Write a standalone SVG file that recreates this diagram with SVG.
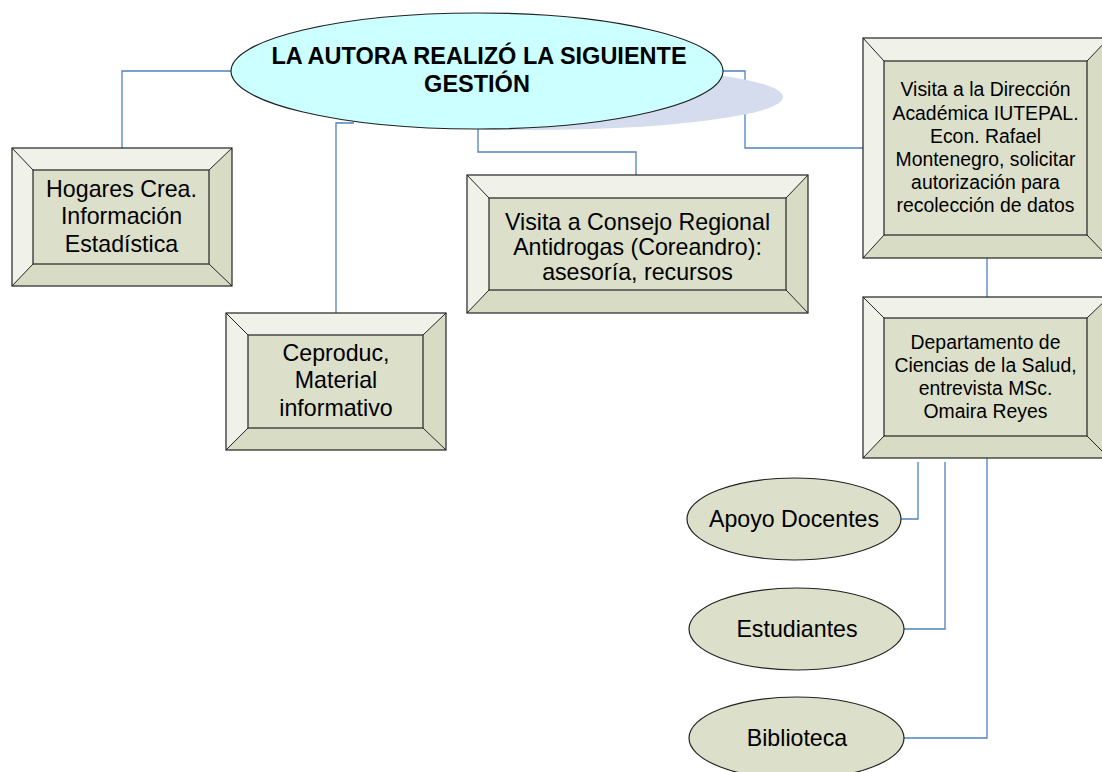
<svg xmlns="http://www.w3.org/2000/svg" width="1102" height="772" viewBox="0 0 1102 772">
<style>
.lt{fill:#f0f1e8}
.dk{fill:#d9dcc5}
.in{fill:#dcdfc9;stroke:#222;stroke-width:1.2}
.ot{fill:none;stroke:#222;stroke-width:1.2}
.dg{stroke:#222;stroke-width:1}
.t{font-family:"Liberation Sans",Arial,sans-serif;fill:#000;text-anchor:middle}
.big{font-size:23.2px}
.sm{font-size:19.4px}
.con{fill:none;stroke:#4f81bd;stroke-width:1.3}
.el{fill:#dcdfc9;stroke:#222;stroke-width:1.2}
</style>
<rect width="1102" height="772" fill="#fff"/>
<g id="connectors">
<path class="con" d="M231,71 H122 V148"/>
<path class="con" d="M354,123 H336 V313"/>
<path class="con" d="M478,129 V152 H636 V175"/>
<path class="con" d="M723,71 H745 V148 H863"/>
<path class="con" d="M987,258 V297"/>
<path class="con" d="M918,462 V519 H901"/>
<path class="con" d="M945,462 V629 H904"/>
<path class="con" d="M987,458 V738 H904"/>
</g>
<g id="main">
<ellipse cx="530" cy="97" rx="253" ry="33" fill="#d5dced"/>
<ellipse cx="477" cy="71" rx="246" ry="58" fill="#ccffff" stroke="#222" stroke-width="1.2"/>
<text class="t" font-weight="bold" font-size="23.5px" x="479" y="64">LA AUTORA REALIZÓ LA SIGUIENTE</text>
<text class="t" font-weight="bold" font-size="23.5px" x="477" y="92">GESTIÓN</text>
</g>
<g id="hogares">
<polygon class="lt" points="12,148 232,148 209,170 33,170"/>
<polygon class="lt" points="12,148 33,170 33,264 12,286"/>
<polygon class="dk" points="232,148 232,286 209,264 209,170"/>
<polygon class="dk" points="12,286 33,264 209,264 232,286"/>
<rect class="in" x="33" y="170" width="176" height="94"/>
<path class="dg" d="M12,148 L33,170 M232,148 L209,170 M12,286 L33,264 M232,286 L209,264"/>
<rect class="ot" x="12" y="148" width="220" height="138"/>
<text class="t big" x="121.5" y="197">Hogares Crea.</text>
<text class="t big" x="121.5" y="224">Información</text>
<text class="t big" x="121.5" y="252">Estadística</text>
</g>
<g id="ceproduc">
<polygon class="lt" points="226,313 446,313 423,335 248,335"/>
<polygon class="lt" points="226,313 248,335 248,428 226,450"/>
<polygon class="dk" points="446,313 446,450 423,428 423,335"/>
<polygon class="dk" points="226,450 248,428 423,428 446,450"/>
<rect class="in" x="248" y="335" width="175" height="93"/>
<path class="dg" d="M226,313 L248,335 M446,313 L423,335 M226,450 L248,428 M446,450 L423,428"/>
<rect class="ot" x="226" y="313" width="220" height="137"/>
<text class="t big" x="336" y="361">Ceproduc,</text>
<text class="t big" x="336" y="388">Material</text>
<text class="t big" x="336" y="416">informativo</text>
</g>
<g id="consejo">
<polygon class="lt" points="467,175 808,175 786,198 489,198"/>
<polygon class="lt" points="467,175 489,198 489,290 467,313"/>
<polygon class="dk" points="808,175 808,313 786,290 786,198"/>
<polygon class="dk" points="467,313 489,290 786,290 808,313"/>
<rect class="in" x="489" y="198" width="297" height="92"/>
<path class="dg" d="M467,175 L489,198 M808,175 L786,198 M467,313 L489,290 M808,313 L786,290"/>
<rect class="ot" x="467" y="175" width="341" height="138"/>
<text class="t big" x="637.5" y="230">Visita a Consejo Regional</text>
<text class="t big" x="637.5" y="255">Antidrogas (Coreandro):</text>
<text class="t big" x="637.5" y="280">asesoría, recursos</text>
</g>
<g id="visita">
<polygon class="lt" points="863,38 1109,38 1087,61 884,61"/>
<polygon class="lt" points="863,38 884,61 884,235 863,258"/>
<polygon class="dk" points="1109,38 1109,258 1087,235 1087,61"/>
<polygon class="dk" points="863,258 884,235 1087,235 1109,258"/>
<rect class="in" x="884" y="61" width="203" height="174"/>
<path class="dg" d="M863,38 L884,61 M1109,38 L1087,61 M863,258 L884,235 M1109,258 L1087,235"/>
<rect class="ot" x="863" y="38" width="246" height="220"/>
<text class="t sm" x="985.5" y="96">Visita a la Dirección</text>
<text class="t sm" x="985.5" y="120">Académica IUTEPAL.</text>
<text class="t sm" x="985.5" y="143">Econ. Rafael</text>
<text class="t sm" x="985.5" y="166">Montenegro, solicitar</text>
<text class="t sm" x="985.5" y="189">autorización para</text>
<text class="t sm" x="985.5" y="212">recolección de datos</text>
</g>
<g id="departamento">
<polygon class="lt" points="863,297 1109,297 1087,318 884,318"/>
<polygon class="lt" points="863,297 884,318 884,436 863,458"/>
<polygon class="dk" points="1109,297 1109,458 1087,436 1087,318"/>
<polygon class="dk" points="863,458 884,436 1087,436 1109,458"/>
<rect class="in" x="884" y="318" width="203" height="118"/>
<path class="dg" d="M863,297 L884,318 M1109,297 L1087,318 M863,458 L884,436 M1109,458 L1087,436"/>
<rect class="ot" x="863" y="297" width="246" height="161"/>
<text class="t sm" x="985.5" y="349">Departamento de</text>
<text class="t sm" x="985.5" y="372">Ciencias de la Salud,</text>
<text class="t sm" x="985.5" y="395">entrevista MSc.</text>
<text class="t sm" x="985.5" y="418">Omaira Reyes</text>
</g>
<g id="apoyo">
<ellipse class="el" cx="794" cy="519" rx="107" ry="41"/>
<text class="t big" x="794" y="527">Apoyo Docentes</text>
</g>
<g id="estudiantes">
<ellipse class="el" cx="796.5" cy="629" rx="107.5" ry="41"/>
<text class="t big" x="797" y="637">Estudiantes</text>
</g>
<g id="biblioteca">
<ellipse class="el" cx="796.5" cy="738" rx="107.5" ry="41"/>
<text class="t big" x="797" y="746">Biblioteca</text>
</g>
</svg>
